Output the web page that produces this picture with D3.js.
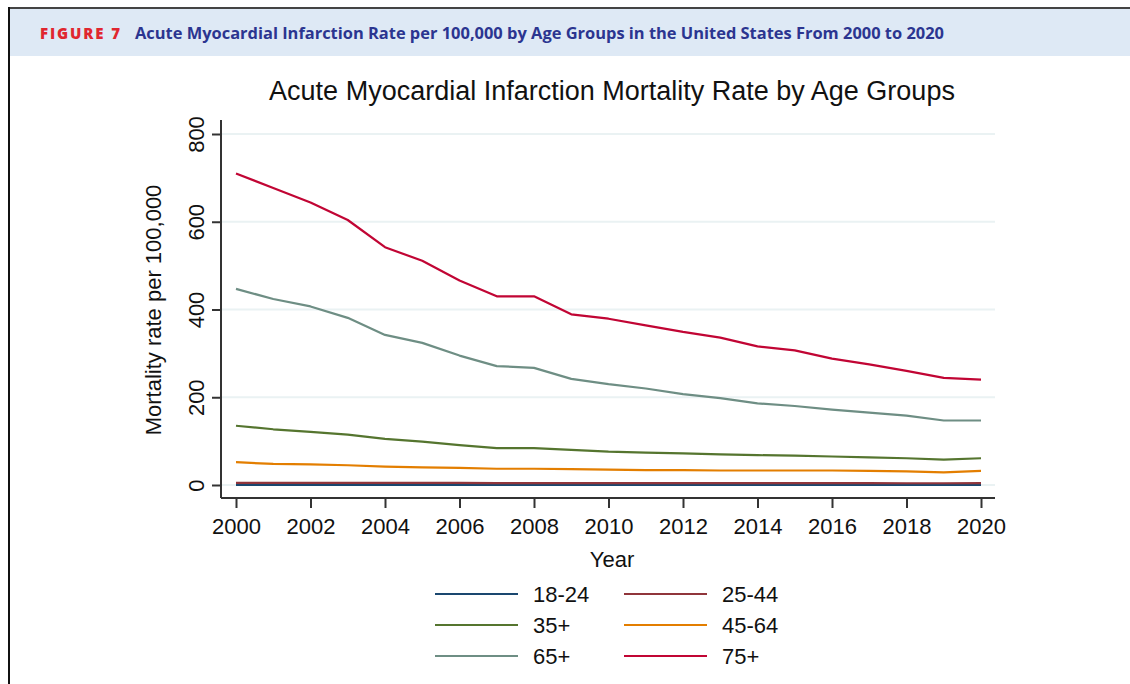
<!DOCTYPE html>
<html><head><meta charset="utf-8">
<script src="https://cdn.jsdelivr.net/npm/d3@7"></script>
<style>body{margin:0;background:#fff}svg{display:block}</style>
</head><body>
<svg id="c" width="1130" height="684"></svg>
<script>
const years = d3.range(2000, 2021);
const groups = ["18-24","25-44","35+","45-64","65+","75+"];
const colors = ["#1a476f","#90353b","#55752f","#e37e00","#6e8e84","#c10534"];
const v1824 = [0.5,0.5,0.5,0.5,0.5,0.5,0.5,0.5,0.5,0.5,0.5,0.5,0.5,0.5,0.5,0.5,0.5,0.5,0.5,0.5,0.5];
const v2544 = [5,5,5,5,5,4.8,4.7,4.5,4.5,4.4,4.3,4.3,4.2,4.2,4.1,4.1,4.1,4.1,4.0,4.0,4.1];
const v35 = [135,127,121,115,105,99,91,84,84,80,76,74,72,70,68,67,65,63,61,58,61];
const v4564 = [52,48,47,45,42,40,39,37,37,36,35,34,34,33,33,33,33,32,31,29,32];
const v65 = [447,424,407,381,342,324,295,271,267,242,230,220,207,198,186,180,172,165,158,147,147];
const v75 = [710,677,644,604,542,511,466,430,430,389,379,364,349,336,316,307,288,275,260,244,240];
const seriesValues = [v1824, v2544, v35, v4564, v65, v75];
const yTicks = [0,200,400,600,800];
const xTicks = d3.range(2000, 2021, 2);

const svg = d3.select("#c");
// header
svg.append("rect").attr("x",9).attr("y",9).attr("width",1121).attr("height",47).attr("fill","#dee9f5");
svg.append("line").attr("x1",9).attr("x2",1130).attr("y1",8).attr("y2",8).attr("stroke","#444").attr("stroke-width",2);
svg.append("line").attr("x1",9).attr("x2",9).attr("y1",7).attr("y2",684).attr("stroke","#111").attr("stroke-width",2);
svg.append("text").attr("x",40).attr("y",39).attr("fill","#e0262f").attr("font-family","Open Sans, sans-serif")
  .attr("font-weight",800).attr("font-size",15).attr("textLength",80).attr("lengthAdjust","spacing").text("FIGURE 7");
svg.append("text").attr("x",135).attr("y",39).attr("fill","#2b3590").attr("font-family","Open Sans, sans-serif")
  .attr("font-weight",700).attr("font-size",16.5).attr("textLength",809).attr("lengthAdjust","spacingAndGlyphs")
  .text("Acute Myocardial Infarction Rate per 100,000 by Age Groups in the United States From 2000 to 2020");

const F = "Liberation Sans, Arial, sans-serif";
const x = d3.scaleLinear().domain([2000,2020]).range([236,981]);
const y = d3.scaleLinear().domain([0,800]).range([485,134]);

// gridlines
svg.append("g").selectAll("line").data(yTicks).join("line")
  .attr("x1",222).attr("x2",995).attr("y1",d=>y(d)).attr("y2",d=>y(d))
  .attr("stroke","#eaf2f3").attr("stroke-width",2);

// lines
const line = d3.line().x((d,i)=>x(years[i])).y(d=>y(d));
svg.append("g").selectAll("path").data(seriesValues).join("path")
  .attr("d",d=>line(d)).attr("fill","none").attr("stroke",(d,i)=>colors[i]).attr("stroke-width",2.2)
  .attr("stroke-linejoin","round");

// axes
const xAxis = svg.append("g").attr("transform","translate(0,498)")
  .call(d3.axisBottom(x).tickValues(xTicks).tickFormat(d3.format("d")).tickSize(10).tickPadding(6).tickSizeOuter(0));
xAxis.select(".domain").attr("d","M221,0H995");
const yAxis = svg.append("g").attr("transform","translate(221,0)")
  .call(d3.axisLeft(y).tickValues(yTicks).tickSize(9).tickPadding(6).tickSizeOuter(0));
yAxis.select(".domain").attr("d","M0,120V498");
[xAxis,yAxis].forEach(a=>{
  a.selectAll(".domain, .tick line").attr("stroke","#333").attr("stroke-width",2);
  a.selectAll("text").attr("font-family",F).attr("font-size",22).attr("fill","#111");
});
xAxis.selectAll("text").attr("dy","0.71em").attr("y",20);
yAxis.selectAll(".tick text").attr("transform","rotate(-90)").attr("x",0).attr("y",-17)
  .attr("dy","0").attr("text-anchor","middle");

// titles
svg.append("text").attr("x",612).attr("y",100).attr("text-anchor","middle").attr("font-family",F)
  .attr("font-size",27).attr("fill","#111").text("Acute Myocardial Infarction Mortality Rate by Age Groups");
svg.append("text").attr("x",612).attr("y",567).attr("text-anchor","middle").attr("font-family",F)
  .attr("font-size",22).attr("fill","#111").text("Year");
svg.append("text").attr("transform","translate(161,310) rotate(-90)").attr("text-anchor","middle").attr("font-family",F)
  .attr("font-size",22).attr("fill","#111").text("Mortality rate per 100,000");

// legend
const lg = svg.append("g");
const lx = [435, 624], ly = [594, 625, 656];
groups.forEach((g,i)=>{
  const cx = lx[i%2], cy = ly[Math.floor(i/2)];
  lg.append("line").attr("x1",cx).attr("x2",cx+83).attr("y1",cy).attr("y2",cy)
    .attr("stroke",colors[i]).attr("stroke-width",2.2);
  lg.append("text").attr("x",cx+98).attr("y",cy+8).attr("font-family",F).attr("font-size",22)
    .attr("fill","#111").text(g);
});
</script>
</body></html>
